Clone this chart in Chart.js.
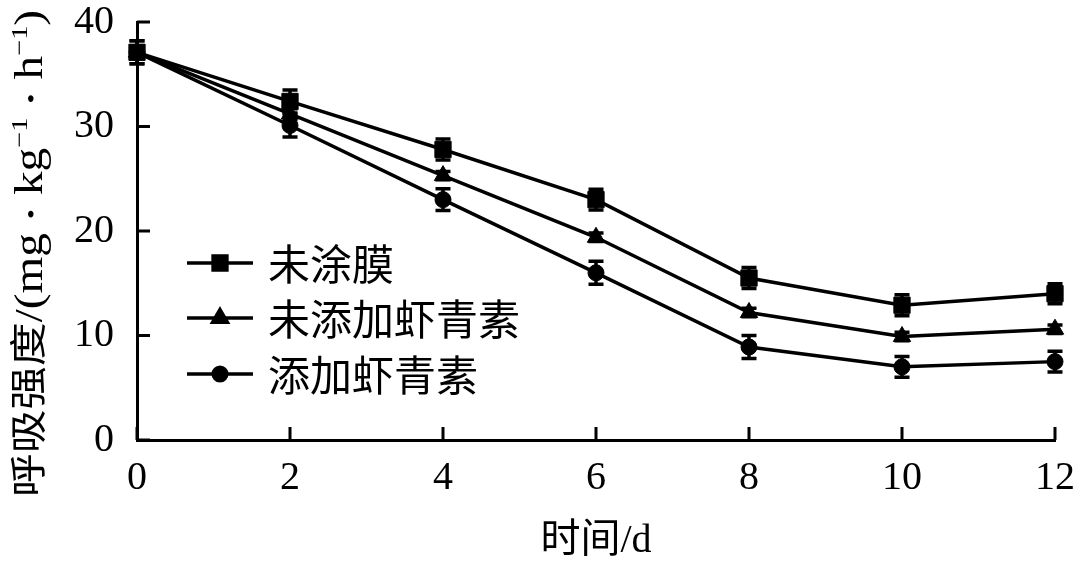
<!DOCTYPE html>
<html>
<head>
<meta charset="utf-8">
<script src="https://cdn.jsdelivr.net/npm/chart.js@4.4.1/dist/chart.umd.min.js"></script>
<style>
  html, body { margin: 0; padding: 0; background: #fff; }
  #wrap { width: 1080px; height: 569px; position: relative; }
</style>
</head>
<body>
<div id="wrap"><canvas id="myChart"></canvas></div>
<script>
// data
const days = [0, 2, 4, 6, 8, 10, 12];
const seriesNames = ['未涂膜', '未添加虾青素', '添加虾青素'];
const noCoating = [37.1, 32.4, 27.8, 23.0, 15.5, 12.9, 14.0];
const noCoatingErr = [1.1, 1.1, 1.0, 1.0, 1.0, 1.0, 0.95];
const noAstax = [37.1, 31.2, 25.3, 19.4, 12.2, 9.9, 10.6];
const noAstaxErr = [0.6, 0.5, 0.4, 0.4, 0.4, 0.4, 0.4];
const withAstax = [37.1, 30.1, 23.0, 16.0, 8.9, 7.0, 7.5];
const withAstaxErr = [1.1, 1.1, 1.05, 1.1, 1.1, 1.0, 1.0];
const yTicks = [0, 10, 20, 30, 40];
const xTicks = [0, 2, 4, 6, 8, 10, 12];

const FONT = "'Liberation Serif', 'Noto Sans CJK SC', serif";
const CJK = "'Noto Sans CJK SC', 'Liberation Serif', sans-serif";

function toPoints(vals) {
  return days.map((d, i) => ({ x: d, y: vals[i] }));
}

const errors = [noCoatingErr, noAstaxErr, withAstaxErr];
const styles = [
  { pointStyle: 'rect', radius: 11.5 },
  { pointStyle: 'triangle', radius: 10 },
  { pointStyle: 'circle', radius: 8 }
];

// error bars under the markers
const errorBars = {
  id: 'errorBars',
  beforeDatasetsDraw(chart) {
    const ctx = chart.ctx;
    const xs = chart.scales.x, ys = chart.scales.y;
    ctx.save();
    ctx.strokeStyle = '#000';
    ctx.lineWidth = 3.5;
    chart.data.datasets.forEach((ds, di) => {
      ds.data.forEach((p, i) => {
        const e = errors[di][i];
        const px = xs.getPixelForValue(p.x);
        const top = ys.getPixelForValue(p.y + e);
        const bot = ys.getPixelForValue(p.y - e);
        ctx.beginPath();
        ctx.moveTo(px, top); ctx.lineTo(px, bot);
        ctx.moveTo(px - 7.5, top); ctx.lineTo(px + 7.5, top);
        ctx.moveTo(px - 7.5, bot); ctx.lineTo(px + 7.5, bot);
        ctx.stroke();
      });
    });
    ctx.restore();
  }
};

// inward tick marks
const innerTicks = {
  id: 'innerTicks',
  afterDraw(chart) {
    const ctx = chart.ctx;
    const xs = chart.scales.x, ys = chart.scales.y;
    const a = chart.chartArea;
    ctx.save();
    ctx.strokeStyle = '#000';
    ctx.lineWidth = 3;
    ctx.beginPath();
    xTicks.forEach(v => {
      const px = xs.getPixelForValue(v);
      ctx.moveTo(px, a.bottom); ctx.lineTo(px, a.bottom - 13);
    });
    yTicks.forEach(v => {
      const py = ys.getPixelForValue(v);
      ctx.moveTo(a.left, py); ctx.lineTo(a.left + 13, py);
    });
    ctx.stroke();
    ctx.restore();
  }
};

// legend drawn inside the plot, line through marker
const innerLegend = {
  id: 'innerLegend',
  afterDraw(chart) {
    const ctx = chart.ctx;
    const rows = [263, 318, 374];
    ctx.save();
    chart.data.datasets.forEach((ds, i) => {
      const y = rows[i];
      ctx.strokeStyle = '#000';
      ctx.lineWidth = 3.5;
      ctx.beginPath();
      ctx.moveTo(187, y); ctx.lineTo(253, y);
      ctx.stroke();
      Chart.helpers.drawPoint(ctx, {
        pointStyle: styles[i].pointStyle,
        radius: styles[i].radius * 0.85,
        borderWidth: 1
      }, 220, y);
      ctx.fillStyle = '#000';
      ctx.font = '42px ' + CJK;
      ctx.textBaseline = 'middle';
      ctx.fillText(ds.label, 268, y + 1);
    });
    ctx.restore();
  }
};

// y axis title with mixed CJK / serif text and superscripts
const yTitle = {
  id: 'yTitle',
  afterDraw(chart) {
    const ctx = chart.ctx;
    const parts = [
      { t: '呼吸强度', f: '37px ' + CJK, dy: 0 },
      { t: '/(mg', f: '40px ' + FONT, dy: 0 },
      { t: '  •  ', f: '24px ' + FONT, dy: -3 },
      { t: 'kg', f: '40px ' + FONT, dy: 0 },
      { t: '−1', f: '24px ' + FONT, dy: -15 },
      { t: '  •  ', f: '24px ' + FONT, dy: -3 },
      { t: 'h', f: '40px ' + FONT, dy: 0 },
      { t: '−1', f: '24px ' + FONT, dy: -15 },
      { t: ')', f: '40px ' + FONT, dy: 0 }
    ];
    ctx.save();
    ctx.translate(42, 497);
    ctx.rotate(-Math.PI / 2);
    ctx.scale(1.18, 1);
    ctx.fillStyle = '#000';
    ctx.textBaseline = 'alphabetic';
    let x = 0;
    parts.forEach(p => {
      ctx.font = p.f;
      ctx.fillText(p.t, x, p.dy);
      x += ctx.measureText(p.t).width;
    });
    ctx.restore();
  }
};

const datasets = [noCoating, noAstax, withAstax].map((vals, i) => ({
  label: seriesNames[i],
  data: toPoints(vals),
  borderColor: '#000',
  backgroundColor: '#000',
  borderWidth: 3.5,
  pointStyle: styles[i].pointStyle,
  pointRadius: styles[i].radius,
  pointBorderWidth: 1,
  pointBackgroundColor: '#000',
  pointBorderColor: '#000',
  tension: 0,
  clip: false
}));

Chart.defaults.font.family = FONT;
Chart.defaults.color = '#000';

new Chart(document.getElementById('myChart'), {
  type: 'line',
  data: { datasets: datasets },
  options: {
    responsive: true,
    maintainAspectRatio: false,
    animation: false,
    layout: { padding: { top: 22, right: 25, left: 0, bottom: 0 } },
    plugins: {
      legend: { display: false },
      tooltip: { enabled: false }
    },
    scales: {
      x: {
        type: 'linear',
        min: 0, max: 12,
        grid: { display: false },
        border: { display: true, color: '#000', width: 3 },
        afterBuildTicks: s => { s.ticks = xTicks.map(v => ({ value: v })); },
        afterFit: s => { s.height = 129; s.paddingLeft = 0; s.paddingRight = 0; },
        ticks: { font: { size: 40, family: FONT }, padding: 6, maxRotation: 0, autoSkip: false },
        title: { display: true, text: '时间/d', font: { size: 40, family: FONT }, padding: { top: 2 } }
      },
      y: {
        min: 0, max: 40,
        grid: { display: false },
        border: { display: true, color: '#000', width: 3 },
        afterBuildTicks: s => { s.ticks = yTicks.map(v => ({ value: v })); },
        afterFit: s => { s.width = 137; s.paddingTop = 0; s.paddingBottom = 0; },
        ticks: { font: { size: 40, family: FONT }, padding: 15 },
        title: { display: false }
      }
    }
  },
  plugins: [errorBars, innerTicks, innerLegend, yTitle]
});
</script>
</body>
</html>
